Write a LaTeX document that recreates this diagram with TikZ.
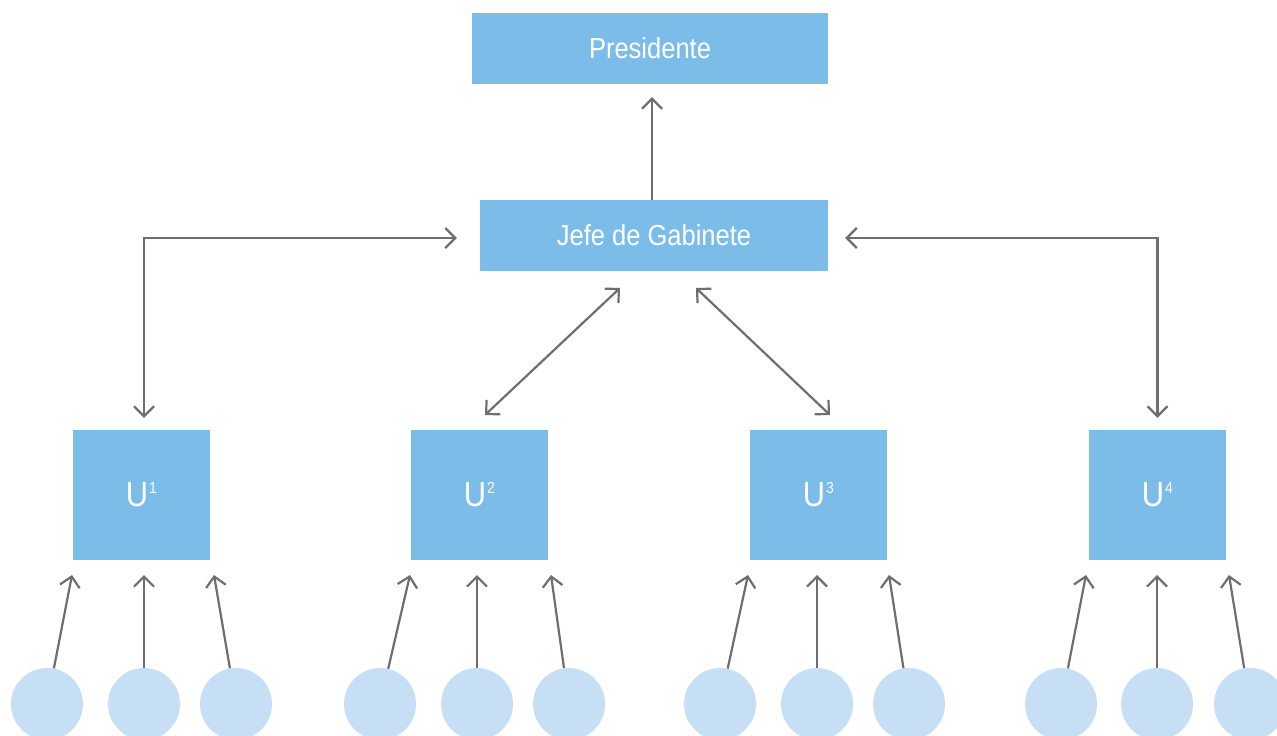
\documentclass[tikz,border=0pt]{standalone}
\usepackage{fontspec}
\setmainfont{Liberation Sans}[FakeStretch=0.88]
\usetikzlibrary{arrows.meta}
\definecolor{boxblue}{HTML}{7BBDE8}
\definecolor{dotblue}{HTML}{C7DFF4}
\definecolor{linkgray}{HTML}{6D6E71}
\tikzset{
  x=1pt, y=-1pt,
  office/.style={fill=boxblue, text=white, inner sep=0pt, font=\fontsize{29}{32}\selectfont},
  unitbox/.style={fill=boxblue, text=white, inner sep=0pt, minimum width=137pt, minimum height=130pt, font=\fontsize{35}{36}\selectfont},
  member/.style={circle, fill=dotblue, inner sep=0pt, minimum size=72pt},
  link/.style={draw=linkgray, line width=2.2pt},
  barb/.tip={Straight Barb[length=10pt, width=20pt]}
}
\newcommand{\unitlabel}[1]{\raisebox{-5pt}{U\kern1pt\raisebox{13pt}{\fontsize{16}{16}\selectfont #1}}}
\begin{document}
\begin{tikzpicture}
\useasboundingbox (0,0) rectangle (1277,736);

% top of the hierarchy
\node[office, minimum width=356pt, minimum height=71pt] (pres) at (650,48.5) {Presidente};
\node[office, minimum width=348pt, minimum height=71pt] (jefe) at (654,235.5) {Jefe de Gabinete};

% units
\node[unitbox] (u1) at (141.5,495) {\unitlabel{1}};
\node[unitbox] (u2) at (479.5,495) {\unitlabel{2}};
\node[unitbox] (u3) at (818.5,495) {\unitlabel{3}};
\node[unitbox] (u4) at (1157.5,495) {\unitlabel{4}};

% members under each unit
\foreach \u/\a/\b/\c in {1/47/144/236, 2/380/477/569, 3/720/817/909, 4/1061/1157/1250}{
  \node[member] (c\u a) at (\a,704) {};
  \node[member] (c\u b) at (\b,704) {};
  \node[member] (c\u c) at (\c,704) {};
}

% arrow ends below each unit
\foreach \u/\l/\m/\r in {1/72/144/214, 2/410/477/551, 3/748/817/889, 4/1086/1157/1229}{
  \coordinate (t\u a) at (\l,575);
  \coordinate (t\u b) at (\m,575);
  \coordinate (t\u c) at (\r,575);
}

% diagonal link ends
\coordinate (d2top) at (620,288);
\coordinate (d2bot) at (485,415);
\coordinate (d3top) at (696,288);
\coordinate (d3bot) at (830,415);

% links
\draw[link, -barb, shorten >=13pt] (jefe.north -| 652,0) -- (pres.south -| 652,0);
\draw[link, barb-barb, shorten <=23pt, shorten >=12pt]
  ([yshift=-2.5pt]jefe.west) -| ([xshift=2.5pt]u1.north);
\draw[link, barb-barb, shorten <=17pt, shorten >=12pt]
  ([yshift=-2.5pt]jefe.east) -| (u4.north);
\draw[link, barb-barb] (d2top) -- (d2bot);
\draw[link, barb-barb] (d3top) -- (d3bot);

\foreach \u in {1,2,3,4}{
  \foreach \k in {a,b,c}{
    \draw[link, -barb] (c\u\k) -- (t\u\k);
  }
}
\end{tikzpicture}
\end{document}
